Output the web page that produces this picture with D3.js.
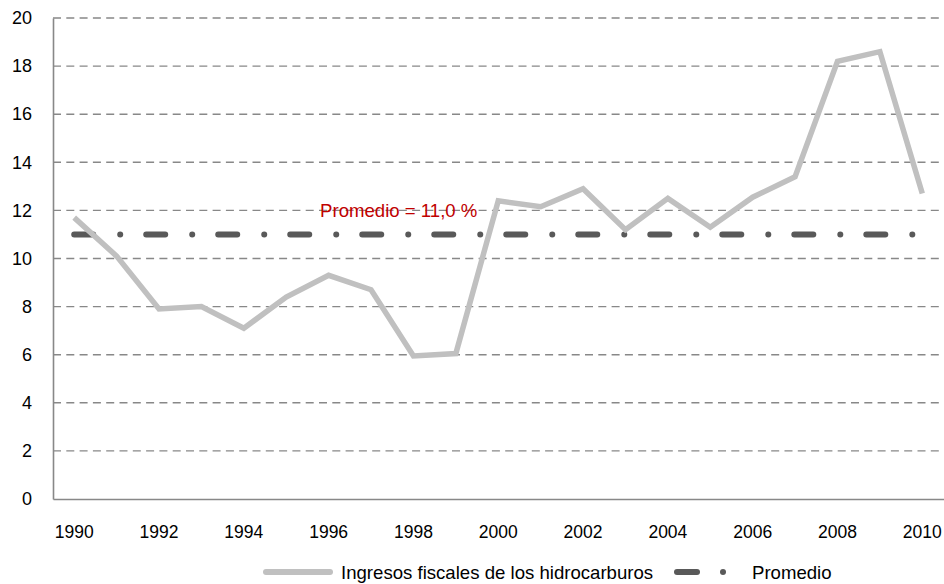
<!DOCTYPE html>
<html>
<head>
<meta charset="utf-8">
<script src="https://cdn.jsdelivr.net/npm/d3@7"></script>
<style>
  html, body { margin: 0; padding: 0; background: #fff; }
  svg { display: block; font-family: "Liberation Sans", Arial, sans-serif; }
</style>
</head>
<body>
<svg id="chart" width="944" height="584"></svg>
<script>
// Ingresos fiscales de los hidrocarburos (% de los ingresos), 1990-2010
const years = [1990, 1991, 1992, 1993, 1994, 1995, 1996, 1997, 1998, 1999, 2000,
               2001, 2002, 2003, 2004, 2005, 2006, 2007, 2008, 2009, 2010];
const ingresos = [11.7, 10.1, 7.9, 8.0, 7.1, 8.4, 9.3, 8.7, 5.95, 6.05, 12.4,
                  12.15, 12.9, 11.2, 12.5, 11.3, 12.55, 13.4, 18.2, 18.6, 12.7];
const promedioValue = 11.0;
const promedio = years.map(() => promedioValue);
const yTicks = [0, 2, 4, 6, 8, 10, 12, 14, 16, 18, 20];
const xTickYears = [1990, 1992, 1994, 1996, 1998, 2000, 2002, 2004, 2006, 2008, 2010];
const seriesNames = ["Ingresos fiscales de los hidrocarburos", "Promedio"];
const avgLabel = "Promedio = 11,0 %";

const svg = d3.select("#chart");
const plotLeft = 53, plotRight = 943.5, plotTop = 18, plotBottom = 499;

const x = d3.scaleBand().domain(years).range([plotLeft, plotRight]).padding(0);
const xc = d => x(d) + x.bandwidth() / 2;
const y = d3.scaleLinear().domain([0, 20]).range([plotBottom, plotTop]);

const gridColor = "#888888";

// horizontal dashed gridlines
svg.append("g")
  .selectAll("line")
  .data(yTicks.filter(t => t > 0))
  .join("line")
  .attr("x1", plotLeft).attr("x2", plotRight)
  .attr("y1", d => y(d)).attr("y2", d => y(d))
  .attr("stroke", gridColor)
  .attr("stroke-width", 1.4)
  .attr("stroke-dasharray", "8 5.3");

// y axis
const yAxis = svg.append("g")
  .attr("transform", `translate(${plotLeft},0)`)
  .call(d3.axisLeft(y).tickValues(yTicks).tickSize(0).tickPadding(21));
yAxis.select(".domain").attr("stroke", gridColor).attr("stroke-width", 1.6);
yAxis.selectAll("text").attr("font-size", 18).attr("fill", "#000")
  .attr("font-family", "Liberation Sans, Arial, sans-serif");

// x axis
const xAxis = svg.append("g")
  .attr("transform", `translate(0,${plotBottom})`)
  .call(d3.axisBottom(x).tickValues(xTickYears).tickSize(0).tickPadding(27));
xAxis.select(".domain").attr("stroke", gridColor).attr("stroke-width", 1.6);
xAxis.selectAll("text").attr("font-size", 17.5).attr("fill", "#000")
  .attr("font-family", "Liberation Sans, Arial, sans-serif");

// average line
const line = d3.line().x((d, i) => xc(years[i])).y(d => y(d));
svg.append("path")
  .datum(promedio)
  .attr("d", line)
  .attr("fill", "none")
  .attr("stroke", "#595959")
  .attr("stroke-width", 6)
  .attr("stroke-linecap", "round")
  .attr("stroke-dasharray", "19 27 0.01 26");

// revenue series
svg.append("path")
  .datum(ingresos)
  .attr("d", line)
  .attr("fill", "none")
  .attr("stroke", "#c0c0c0")
  .attr("stroke-width", 5.5)
  .attr("stroke-linejoin", "miter");

// average label
svg.append("text")
  .attr("x", (xc(1997) + xc(1998)) / 2 + 6.5)
  .attr("y", y(promedioValue) - 17)
  .attr("text-anchor", "middle")
  .attr("font-size", 18.6)
  .attr("fill", "#c00000")
  .text(avgLabel);

// legend
const ly = 572;
const legend = svg.append("g");
legend.append("line")
  .attr("x1", 266).attr("x2", 330).attr("y1", ly).attr("y2", ly)
  .attr("stroke", "#c0c0c0").attr("stroke-width", 6).attr("stroke-linecap", "round");
legend.append("text")
  .attr("x", 341).attr("y", ly + 6.5)
  .attr("font-size", 18.6).attr("fill", "#000")
  .text(seriesNames[0]);
legend.append("line")
  .attr("x1", 677).attr("x2", 697).attr("y1", ly).attr("y2", ly)
  .attr("stroke", "#595959").attr("stroke-width", 6).attr("stroke-linecap", "round");
legend.append("circle")
  .attr("cx", 723).attr("cy", ly).attr("r", 3)
  .attr("fill", "#595959");
legend.append("text")
  .attr("x", 752).attr("y", ly + 6.5)
  .attr("font-size", 18.6).attr("fill", "#000")
  .text(seriesNames[1]);
</script>
</body>
</html>
